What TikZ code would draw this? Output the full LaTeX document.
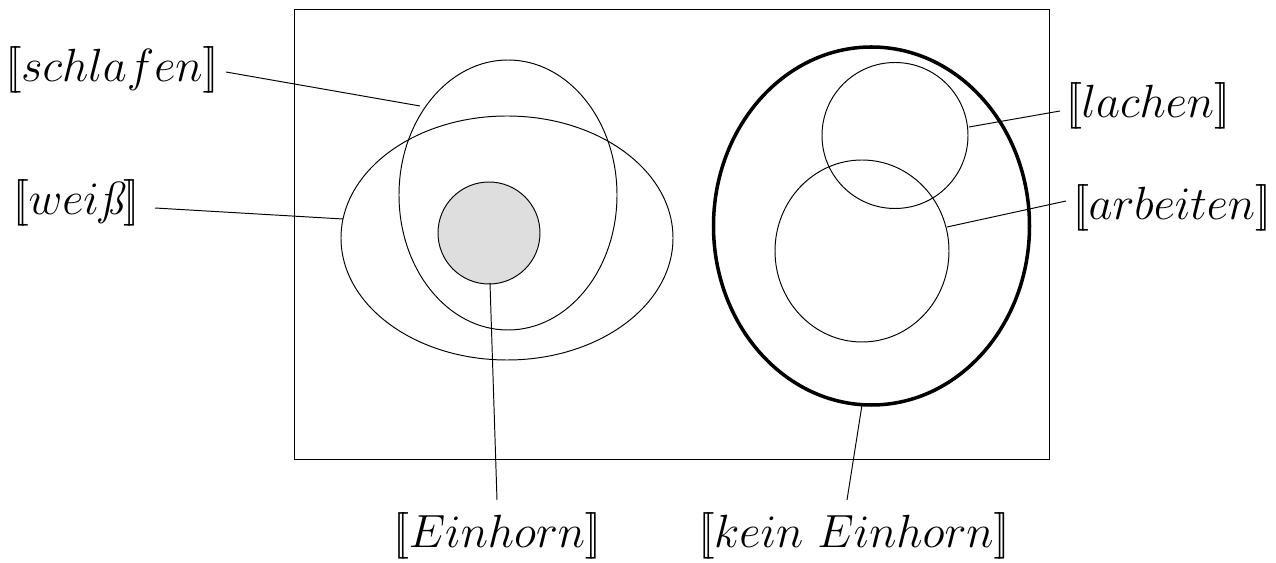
\documentclass[tikz,border=0pt]{standalone}
\newcommand{\lsb}{\mathopen{[\mkern-3mu[}}
\newcommand{\rsb}{\mathclose{]\mkern-3mu]}}
\newcommand{\lblbox}[1]{\scalebox{1.065}{#1}}
\begin{document}
\begin{tikzpicture}[x=0.02cm,y=-0.02cm,
  thin line/.style={line width=0.55pt},
  lbl/.style={inner sep=0pt,font=\fontsize{24.88}{30}\selectfont}]
\useasboundingbox (0,0) rectangle (1276,563);
\draw[thin line] (294,9) rectangle (1049,459);
% left sets
\draw[thin line] (507,238) ellipse [x radius=166, y radius=122];
\draw[thin line] (508,195) ellipse [x radius=109, y radius=135];
\draw[thin line,fill=black!13] (489,233) circle [radius=51];
% right sets
\draw[line width=2pt] (871.5,226) ellipse [x radius=158, y radius=179];
\draw[thin line] (895,135.5) circle [radius=73];
\draw[thin line] (862,251) ellipse [x radius=87, y radius=91];
% labels
\node[lbl] (schlafen) at (112,70) {\lblbox{$\lsb schlafen\rsb$}};
\node[lbl] (weiss) at (76,203) {\lblbox{$\lsb wei\mbox{\itshape\ss}\rsb$}};
\node[lbl] (lachen) at (1148,106) {\lblbox{$\lsb lachen\rsb$}};
\node[lbl] (arbeiten) at (1172,208) {\lblbox{$\lsb arbeiten\rsb$}};
\node[lbl] (einhorn) at (497,536) {\lblbox{$\lsb Einhorn\rsb$}};
\node[lbl] (kein) at (854,536) {\lblbox{$\lsb kein\ Einhorn\rsb$}};
% connector endpoints
\coordinate (s1) at (226,72); \coordinate (s2) at (420,106);
\coordinate (w1) at (155,208); \coordinate (w2) at (343,219);
\coordinate (l1) at (1060,111); \coordinate (l2) at (969,127);
\coordinate (a1) at (1066,201); \coordinate (a2) at (947,227);
\coordinate (e1) at (490,283); \coordinate (e2) at (497,500);
\coordinate (k1) at (862,405); \coordinate (k2) at (847,500);
\draw[thin line] (s1) -- (s2);
\draw[thin line] (w1) -- (w2);
\draw[thin line] (l1) -- (l2);
\draw[thin line] (a1) -- (a2);
\draw[thin line] (e1) -- (e2);
\draw[thin line] (k1) -- (k2);
\end{tikzpicture}
\end{document}
